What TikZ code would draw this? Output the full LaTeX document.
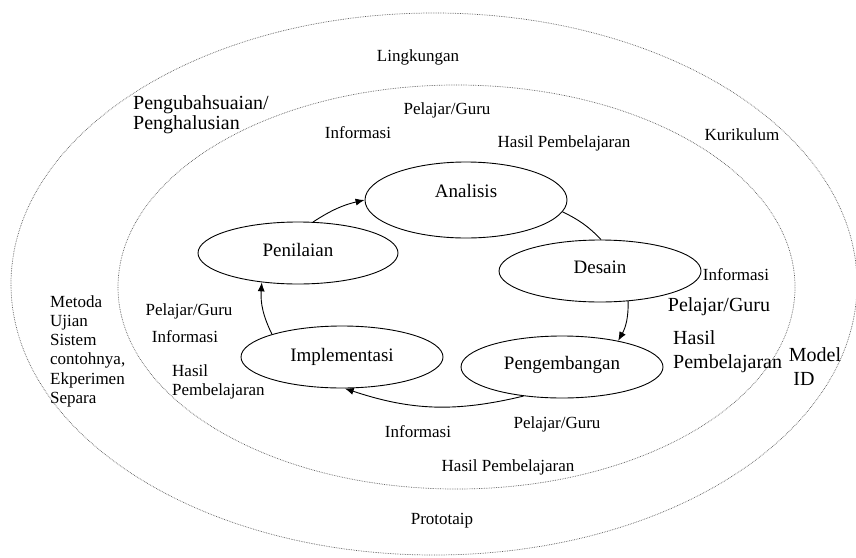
\documentclass[tikz,border=0pt]{standalone}
\usepackage{fontspec}
\setmainfont{Liberation Serif}
\usetikzlibrary{shapes.geometric,arrows.meta}
\begin{document}
\begin{tikzpicture}[x=1pt,y=-1pt,
  stage/.style={draw, line width=0.9pt, ellipse, inner sep=0pt, minimum width=202pt, minimum height=62pt, text height=13pt, font=\fontsize{19}{21}\selectfont},
  lbl/.style={inner sep=0pt, font=\fontsize{17}{19.5}\selectfont},
  lblb/.style={inner sep=0pt, font=\fontsize{20}{24}\selectfont},
  zone/.style={draw=black!65, densely dotted, line width=0.7pt},
  flow/.style={line width=0.9pt, -{Latex[length=9pt,width=7pt]}}
]
\path[use as bounding box] (0,0) rectangle (856,557);
\draw[zone] (434,284) ellipse [x radius=423, y radius=271];
\draw[zone] (456.5,287) ellipse [x radius=338.5, y radius=202];

\node[stage, minimum height=76pt, text depth=18pt] (ana) at (466,200) {Analisis};
\node[stage, text depth=8pt] (des) at (600,271) {Desain};
\node[stage, text depth=8pt] (peng) at (562,367) {Pengembangan};
\node[stage, text depth=4pt] (imp) at (342,357) {Implementasi};
\node[stage, minimum width=200pt, text depth=6pt] (pen) at (298,253) {Penilaian};

\draw[flow] (pen.64) to[bend left=10] (ana.180);
\draw[line width=0.9pt] (ana.-7) to[bend left=10] (des.88);
\draw[flow] (des.-47) to[bend left=15] (peng.25);
\draw[flow] (peng.217) to[bend left=16] (imp.-85);
\draw[flow] (imp.162) to[bend left=15] (pen.219);

\node[lbl] (lingk) at (418,57) {Lingkungan};
\node[lblb, align=left, anchor=north west, font=\fontsize{20}{19.5}\selectfont] (ubah) at (133,95.5) {Pengubahsuaian/\\Penghalusian};
\node[lbl] (tpel) at (447,110) {Pelajar/Guru};
\node[lbl] (tinf) at (358,133) {Informasi};
\node[lbl] (thas) at (564,143) {Hasil Pembelajaran};
\node[lbl] (kur) at (742,135) {Kurikulum};

\node[lbl, align=left, anchor=north west, font=\fontsize{17}{19.3}\selectfont] (metoda) at (50,295) {Metoda\\Ujian\\Sistem\\contohnya,\\Ekperimen\\Separa};
\node[lbl] (lpel) at (189,311) {Pelajar/Guru};
\node[lbl] (linf) at (185,337) {Informasi};
\node[lbl, align=left, anchor=north west] (lhas) at (172,364) {Hasil\\Pembelajaran};

\node[lbl] (rinf) at (736,275) {Informasi};
\node[lblb] (rpel) at (719,307) {Pelajar/Guru};
\node[lblb, align=left, anchor=north west] (rhas) at (673,330) {Hasil\\Pembelajaran};
\node[lblb] (model) at (815,355) {Model};
\node[lblb] (mid) at (804,379) {ID};

\node[lbl] (bpel) at (557,424) {Pelajar/Guru};
\node[lbl] (binf) at (418,432) {Informasi};
\node[lbl] (bhas) at (508,467) {Hasil Pembelajaran};
\node[lbl] (proto) at (442,521) {Prototaip};
\end{tikzpicture}
\end{document}
